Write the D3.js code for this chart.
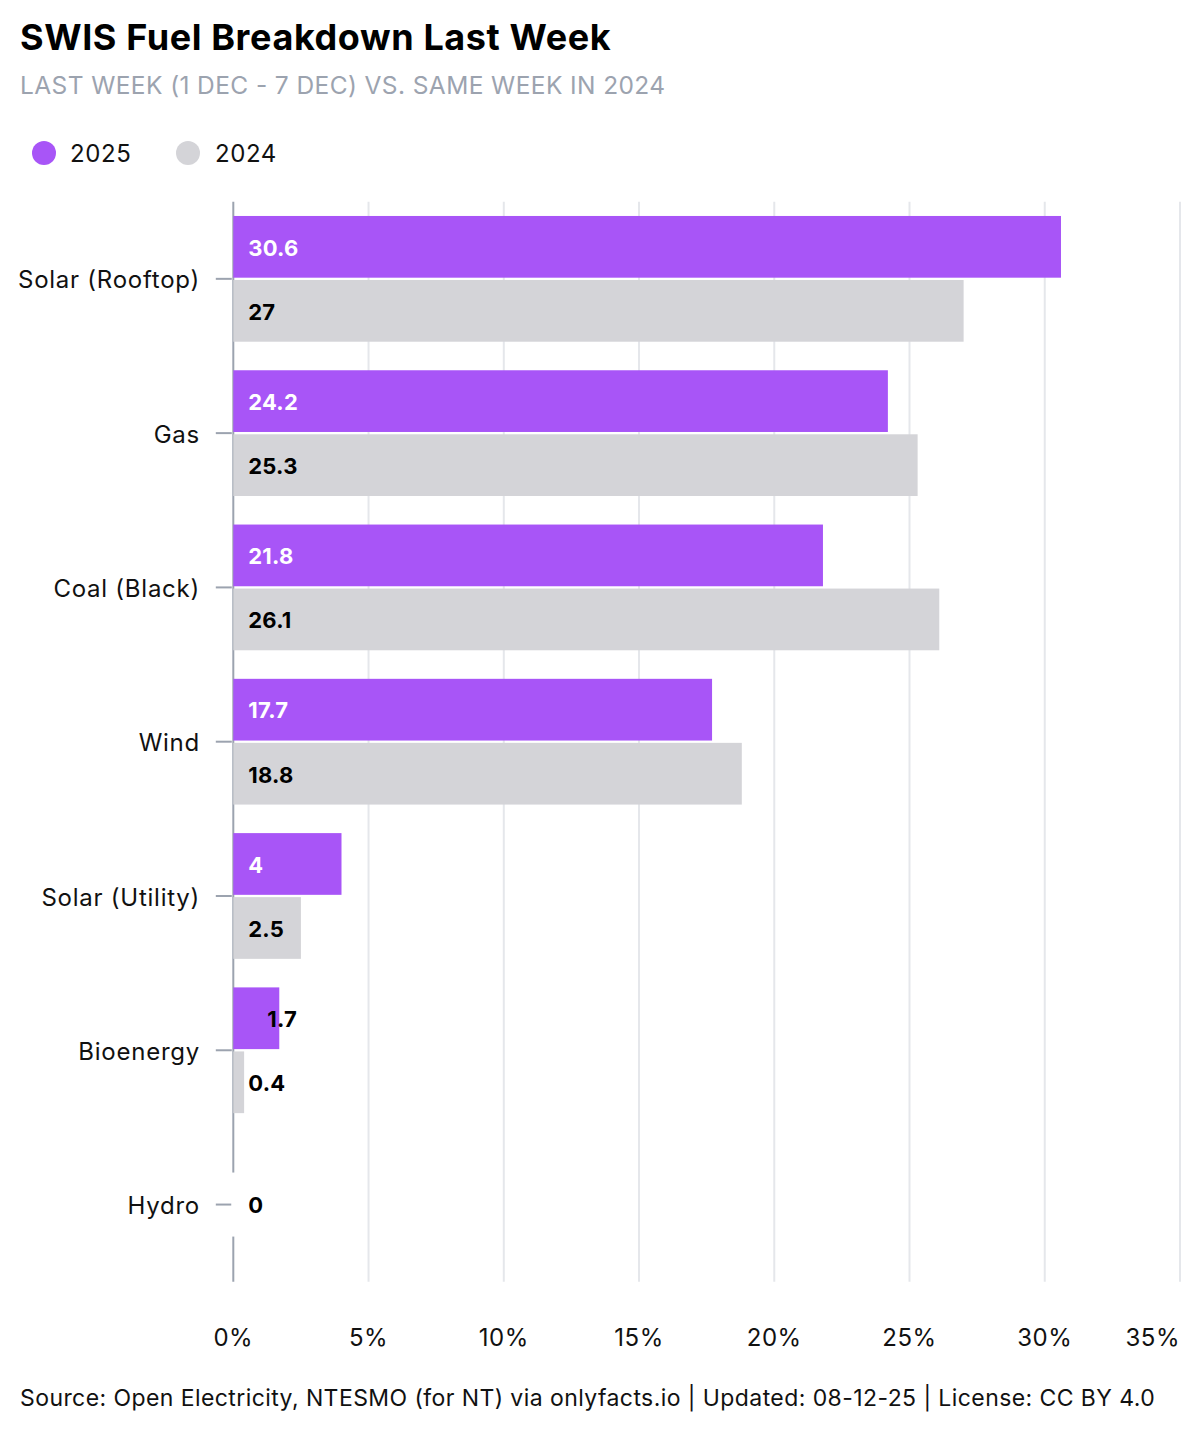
<!DOCTYPE html>
<html>
<head>
<meta charset="utf-8">
<script src="https://cdn.jsdelivr.net/npm/d3@7"></script>
<style>
  html, body { margin: 0; padding: 0; background: #fff; }
  svg { display: block; font-family: Inter, "Noto Sans", sans-serif; }
</style>
</head>
<body>
<svg id="chart" width="1200" height="1440"></svg>
<script>
const categories = ["Solar (Rooftop)", "Gas", "Coal (Black)", "Wind", "Solar (Utility)", "Bioenergy", "Hydro"];
const seriesNames = ["2025", "2024"];
const values2025 = [30.6, 24.2, 21.8, 17.7, 4, 1.7, 0];
const values2024 = [27, 25.3, 26.1, 18.8, 2.5, 0.4, 0];
const xTicks = [0, 5, 10, 15, 20, 25, 30, 35];
const colors = { "2025": "#a855f7", "2024": "#d4d4d8" };

const title = "SWIS Fuel Breakdown Last Week";
const subtitle = "LAST WEEK (1 DEC - 7 DEC) VS. SAME WEEK IN 2024";
const footer = "Source: Open Electricity, NTESMO (for NT) via onlyfacts.io | Updated: 08-12-25 | License: CC BY 4.0";

(function () {
const svg = d3.select("#chart");
const pLeft = 233.3, pRight = 1180, pTop = 201.7, pBottom = 1281.7;

const x = d3.scaleLinear().domain([0, 35]).range([pLeft, pRight]);
const y0 = d3.scaleBand().domain(categories).range([pTop, pBottom]).paddingInner(0.185).paddingOuter(0.0925);
const y1 = d3.scaleBand().domain(seriesNames).range([0, y0.bandwidth()]).paddingInner(0.036);

const rows = categories.map((c, i) => ({ cat: c, vals: [
  { s: "2025", v: values2025[i] }, { s: "2024", v: values2024[i] } ] }));

svg.append("text").attr("x", 20).attr("y", 50).attr("font-size", 36).attr("font-weight", 700)
  .attr("fill", "#000").attr("letter-spacing", 0.6).text(title);
svg.append("text").attr("x", 20).attr("y", 94).attr("font-size", 24.5).attr("fill", "#9ca3af")
  .attr("letter-spacing", 0.4).text(subtitle);

const leg = svg.append("g");
[["2025", 44, 70], ["2024", 188, 215]].forEach(([s, cx, tx]) => {
  leg.append("circle").attr("cx", cx).attr("cy", 153).attr("r", 12).attr("fill", colors[s]);
  leg.append("text").attr("x", tx).attr("y", 153).attr("dy", "0.38em").attr("font-size", 24)
    .attr("letter-spacing", 0.6).attr("fill", "#111").text(s);
});

svg.append("g").selectAll("line").data(xTicks.slice(1)).join("line")
  .attr("x1", d => x(d)).attr("x2", d => x(d)).attr("y1", pTop).attr("y2", pBottom)
  .attr("stroke", "#e5e7eb").attr("stroke-width", 2);

svg.append("line").attr("x1", x(0)).attr("x2", x(0)).attr("y1", pTop).attr("y2", pBottom)
  .attr("stroke", "#9ca3af").attr("stroke-width", 2);

const yAxis = svg.append("g");
categories.forEach(c => {
  const cy = y0(c) + y0.bandwidth() / 2;
  yAxis.append("line").attr("x1", pLeft - 17.5).attr("x2", pLeft - 1.5).attr("y1", cy).attr("y2", cy)
    .attr("stroke", "#9ca3af").attr("stroke-width", 2);
  yAxis.append("text").attr("x", 200).attr("y", cy).attr("dy", "0.4em").attr("text-anchor", "end")
    .attr("font-size", 24).attr("letter-spacing", 0.75).attr("fill", "#111").text(c);
});

const g = svg.append("g");
rows.forEach(r => {
  const gy = y0(r.cat);
  const allZero = r.vals.every(d => d.v === 0);
  if (allZero) {
    g.append("rect").attr("x", x(0) - 2).attr("width", 4)
      .attr("y", gy + y1("2025") + y1.bandwidth() / 2)
      .attr("height", y1("2024") - y1("2025")).attr("fill", "#fff");
    g.append("text").attr("x", x(0) + 15).attr("y", gy + y0.bandwidth() / 2).attr("dy", "0.4em")
      .attr("font-size", 22).attr("letter-spacing", 0.2).attr("font-weight", 700).attr("fill", "#000").text(r.vals[0].v);
    return;
  }
  r.vals.forEach(d => {
    const by = gy + y1(d.s);
    const w = x(d.v) - x(0);
    g.append("rect").attr("x", x(0)).attr("y", by).attr("width", w).attr("height", y1.bandwidth())
      .attr("fill", colors[d.s]);
    const inside = w > 60;
    const lx = inside ? x(0) + 15 : Math.max(x(0) + 15, x(d.v) - 12);
    const fill = (d.s === "2025" && inside) ? "#fff" : "#000";
    g.append("text").attr("x", lx).attr("y", by + y1.bandwidth() / 2).attr("dy", "0.4em")
      .attr("font-size", 22).attr("letter-spacing", 0.2).attr("font-weight", 700).attr("fill", fill).text(d.v);
  });
});

svg.append("g").selectAll("text").data(xTicks).join("text")
  .attr("x", d => x(d))
  .attr("text-anchor", (d, i) => i === xTicks.length - 1 ? "end" : "middle")
  .attr("y", 1337).attr("dy", "0.38em").attr("font-size", 24).attr("letter-spacing", 0.5).attr("fill", "#111")
  .text(d => d + "%");

svg.append("text").attr("x", 20).attr("y", 1397).attr("dy", "0.38em").attr("font-size", 23)
  .attr("letter-spacing", 0.42).attr("fill", "#111").text(footer);
})();
</script>
</body>
</html>
